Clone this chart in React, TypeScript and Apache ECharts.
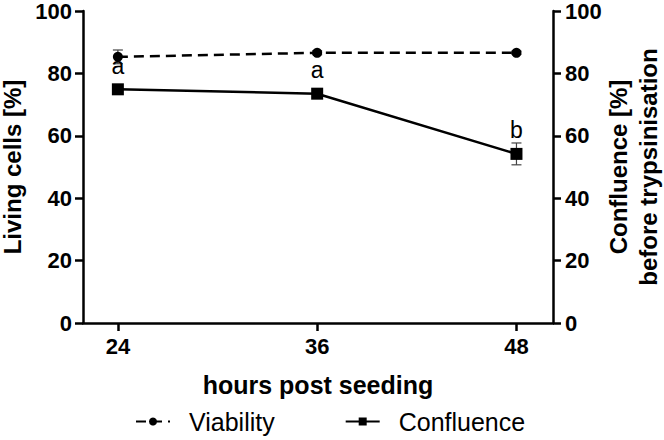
import React, { useEffect, useRef } from "react";
import * as echarts from "echarts";

const hours = [24, 36, 48];
const viability = [85.3, 86.6, 86.6];
const viabilityErr = [2.2, 0.6, 0.5];
const confluence = [74.9, 73.5, 54.2];
const confluenceErr = [1.0, 1.0, 3.5];
const letters = ["a", "a", "b"];
const rightAxisTitle = "Confluence [%]\nbefore trypsinisation";

const FONT = "Liberation Sans, Arial, sans-serif";

export default function App() {
  const ref = useRef<HTMLDivElement>(null);
  useEffect(() => {
    if (!ref.current) return;
    const chart = echarts.init(ref.current, null, { renderer: "svg" });

    const errSeries = (vals: number[], errs: number[], name: string) => ({
      type: "custom",
      name: name + "err",
      yAxisIndex: 0,
      silent: true,
      z: 1,
      data: hours.map((h, i) => [h, vals[i] - errs[i], vals[i] + errs[i]]),
      renderItem: (params: any, api: any) => {
        const x = api.value(0);
        const lo = api.coord([x, api.value(1)]);
        const hi = api.coord([x, api.value(2)]);
        const cw = 5;
        const st = { stroke: "#444", lineWidth: 1.2 };
        return {
          type: "group",
          children: [
            { type: "line", shape: { x1: lo[0], y1: lo[1], x2: hi[0], y2: hi[1] }, style: st },
            { type: "line", shape: { x1: lo[0] - cw, y1: lo[1], x2: lo[0] + cw, y2: lo[1] }, style: st },
            { type: "line", shape: { x1: hi[0] - cw, y1: hi[1], x2: hi[0] + cw, y2: hi[1] }, style: st },
          ],
        };
      },
    });

    const axisLabelStyle = { color: "#000", fontSize: 22, lineHeight: 20, fontWeight: "bold", fontFamily: FONT };
    const nameStyle = { color: "#000", fontSize: 24, fontWeight: "bold", fontFamily: FONT };

    chart.setOption({
      animation: false,
      backgroundColor: "#fff",
      grid: { left: 83, right: 111, top: 11, bottom: 117, containLabel: false, outerBoundsMode: "none" },
      legend: {
        bottom: 1,
        left: 130,
        itemGap: 70,
        itemWidth: 34,
        itemHeight: 10,
        data: ["Viability", "Confluence"],
        textStyle: { color: "#000", fontSize: 25, fontFamily: FONT, padding: [0, 0, 0, 14] },
      },
      graphic: [
        {
          type: "text",
          x: 633,
          y: 167,
          rotation: Math.PI / 2,
          style: {
            text: rightAxisTitle,
            fill: "#000",
            fontSize: 24,
            fontWeight: "bold",
            fontFamily: FONT,
            lineHeight: 30,
            align: "center",
            verticalAlign: "middle",
          },
        },
      ],
      xAxis: {
        type: "value",
        min: 21.9,
        max: 50.2,
        name: "hours post seeding",
        nameLocation: "middle",
        nameGap: 49,
        nameTextStyle: { ...nameStyle, fontSize: 25 },
        axisLine: { lineStyle: { color: "#000", width: 2.5 } },
        axisTick: { show: true, customValues: hours, length: 8, lineStyle: { color: "#000", width: 2.5 } },
        axisLabel: { ...axisLabelStyle, customValues: hours, margin: 13 },
        splitLine: { show: false },
      },
      yAxis: [
        {
          type: "value",
          min: 0,
          max: 100,
          interval: 20,
          position: "left",
          name: "Living cells [%]",
          nameLocation: "middle",
          nameGap: 54,
          nameTextStyle: nameStyle,
          axisLine: { show: true, lineStyle: { color: "#000", width: 2.5 } },
          axisTick: { show: true, length: 8, lineStyle: { color: "#000", width: 2.5 } },
          axisLabel: { ...axisLabelStyle, margin: 11 },
          splitLine: { show: false },
        },
        {
          type: "value",
          min: 0,
          max: 100,
          interval: 20,
          position: "right",
          axisLine: { show: true, lineStyle: { color: "#000", width: 2.5 } },
          axisTick: { show: true, length: 8, lineStyle: { color: "#000", width: 2.5 } },
          axisLabel: { ...axisLabelStyle, margin: 12 },
          splitLine: { show: false },
        },
      ],
      series: [
        errSeries(viability, viabilityErr, "Viability"),
        errSeries(confluence, confluenceErr, "Confluence"),
        {
          type: "line",
          name: "Viability",
          yAxisIndex: 0,
          z: 3,
          data: hours.map((h, i) => [h, viability[i]]),
          symbol: "circle",
          symbolSize: 10,
          itemStyle: { color: "#000" },
          lineStyle: { color: "#000", width: 2.5, type: [10, 6] },
        },
        {
          type: "line",
          name: "Confluence",
          yAxisIndex: 1,
          z: 3,
          data: hours.map((h, i) => [h, confluence[i]]),
          symbol: "rect",
          symbolSize: 12,
          itemStyle: { color: "#000" },
          lineStyle: { color: "#000", width: 2.5 },
          label: {
            show: true,
            position: "top",
            distance: 6,
            color: "#000",
            fontSize: 23,
            fontFamily: FONT,
            formatter: (p: any) => letters[p.dataIndex],
          },
        },
      ],
    });
    return () => chart.dispose();
  }, []);
  return <div ref={ref} style={{ width: 664, height: 440, position: "absolute", left: 0, top: 0 }} />;
}
